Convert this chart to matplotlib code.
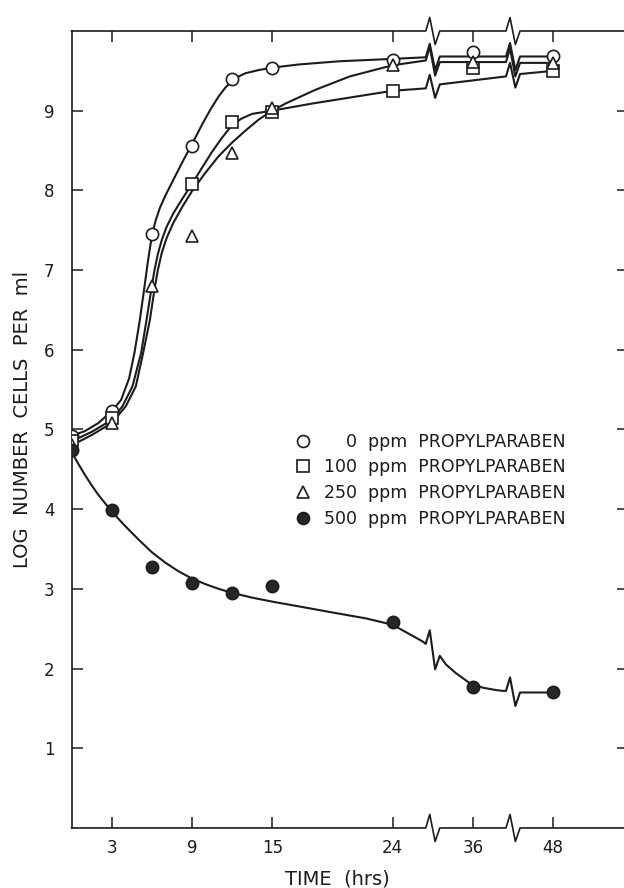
import numpy as np
import matplotlib
matplotlib.use('Agg')  # no display
import matplotlib.pyplot as plt
from matplotlib.lines import Line2D

plt.rcParams['font.family'] = ['DejaVu Sans']

# ---------------------------
# Measured points (read off the figure)
# ---------------------------
time_h = [0, 3, 6, 9, 12, 15, 24, 36, 48]
log_0ppm = [4.92, 5.23, 7.45, 8.56, 9.40, 9.53, 9.64, 9.74, 9.69]
log_100ppm = [4.85, 5.14, np.nan, 8.08, 8.86, 8.98, 9.25, 9.53, 9.50]
log_250ppm = [4.80, 5.08, 6.80, 7.43, 8.47, 9.04, 9.57, 9.61, 9.60]
log_500ppm = [4.74, 3.99, 3.27, 3.08, 2.95, 3.03, 2.59, 1.77, 1.70]

series_labels = ['\u2007\u20070  ppm  PROPYLPARABEN',
                 '100  ppm  PROPYLPARABEN',
                 '250  ppm  PROPYLPARABEN',
                 '500  ppm  PROPYLPARABEN']

# hand drawn curves; a repeated time = axis break
fit_t_0ppm = [0, 1, 2, 3, 3.7, 4.3, 4.7, 5.1, 5.45, 5.7, 5.9, 6.1, 6.3, 6.6, 7, 7.6, 8.3,
              9, 9.8, 10.4, 11, 11.5, 12, 12.5, 13, 14, 15, 17, 20, 24, 30, 30, 36, 42, 42, 48]
fit_0ppm = [4.92, 4.98, 5.08, 5.23, 5.37, 5.64, 5.96, 6.37, 6.79, 7.10, 7.32, 7.50, 7.63,
            7.78, 7.93, 8.13, 8.36, 8.58, 8.84, 9.02, 9.18, 9.29, 9.37, 9.43, 9.47, 9.51,
            9.54, 9.58, 9.62, 9.65, 9.67, 9.68, 9.68, 9.68, 9.68, 9.68]

fit_t_100ppm = [0, 1.5, 3, 3.8, 4.55, 5.2, 5.6, 6, 6.2, 6.45, 6.75, 7.1, 7.6, 8.3, 9, 9.7,
                10.45, 11.2, 12, 12.7, 13.5, 15, 18, 21, 24, 30, 30, 36, 42, 42, 48]
fit_100ppm = [4.85, 4.97, 5.12, 5.29, 5.54, 5.96, 6.37, 6.80, 7.00, 7.20, 7.38, 7.54, 7.71,
              7.90, 8.08, 8.27, 8.47, 8.65, 8.82, 8.90, 8.96, 9.00, 9.09, 9.17, 9.25, 9.28,
              9.33, 9.38, 9.43, 9.46, 9.50]

fit_t_250ppm = [0, 1.5, 3, 4.05, 4.8, 5.35, 5.85, 6.2, 6.45, 6.75, 7.1, 7.6, 8.3, 9, 10, 11,
                12, 13, 14, 15, 16, 18.2, 20.8, 24, 30, 30, 36, 42, 42, 48]
fit_250ppm = [4.80, 4.93, 5.08, 5.29, 5.54, 5.96, 6.37, 6.76, 7.00, 7.22, 7.40, 7.59, 7.80,
              7.99, 8.22, 8.43, 8.60, 8.75, 8.89, 9.00, 9.09, 9.26, 9.43, 9.57, 9.63, 9.61,
              9.61, 9.61, 9.60, 9.60]

fit_t_500ppm = [0, 0.5, 1, 1.5, 2, 2.5, 3, 3.5, 4, 5, 6, 7, 8, 9, 10, 11, 12, 13.5, 15, 17,
                19.3, 22, 24, 25.5, 27, 28.5, 30, 30, 32, 33.5, 35.5, 37.5, 39.5, 40.5, 42,
                42, 48]
fit_500ppm = [4.72, 4.57, 4.43, 4.30, 4.18, 4.075, 3.975, 3.88, 3.79, 3.62, 3.46, 3.33, 3.22,
              3.13, 3.06, 3.00, 2.95, 2.89, 2.84, 2.78, 2.71, 2.63, 2.55, 2.48, 2.41, 2.34,
              2.31, 2.16, 2.05, 1.94, 1.82, 1.76, 1.73, 1.72, 1.72, 1.70, 1.70]

tick_hours = [3, 9, 15, 24, 36, 48]
y_ticks = [1, 2, 3, 4, 5, 6, 7, 8, 9]

INK = '#1c1c1c'
ZX = [-0.52, -0.22, 0.18, 0.53]   # zigzag shape (axis units)
ZH = 0.17


def to_axis(t):
    # after 24 h the time axis is compressed 2:1
    t = np.asarray(t, dtype=float)
    return np.where(t <= 24, t, 24 + (t - 24) / 2)


def with_breaks(t, v):
    xs, ys = [], []
    i = 0
    while i < len(t):
        if i + 1 < len(t) and t[i + 1] == t[i]:
            d = float(to_axis(t[i]))
            yl, yr = v[i], v[i + 1]
            xs += [d + z for z in ZX]
            ys += [yl, yl + ZH, yr - ZH, yr]
            i += 2
        else:
            xs.append(float(to_axis(t[i])))
            ys.append(v[i])
            i += 1
    return xs, ys


fig = plt.figure(figsize=(6.24, 8.88), dpi=100)
ax = fig.add_axes([0.1147, 0.0676, 0.8917, 0.8975])
ax.set_xlim(0, 41.6)
ax.set_ylim(0, 10)

# fitted curves
for ft, fv in [(fit_t_0ppm, fit_0ppm), (fit_t_100ppm, fit_100ppm),
               (fit_t_250ppm, fit_250ppm), (fit_t_500ppm, fit_500ppm)]:
    xs, ys = with_breaks(ft, fv)
    ax.plot(xs, ys, color=INK, lw=1.5, zorder=2, solid_joinstyle='round')

# data markers
x_pts = to_axis(time_h)
mk = dict(ls='none', mec=INK, mew=1.2, zorder=3)
ax.plot(x_pts, log_0ppm, marker='o', ms=8.8, mfc='white', **mk)
ax.plot(x_pts, log_100ppm, marker='s', ms=8.4, mfc='white', **mk)
ax.plot(x_pts, log_250ppm, marker='^', ms=9.2, mfc='white', **mk)
ax.plot(x_pts, log_500ppm, marker='o', ms=8.8, mfc='#262626', **mk)

# broken top / bottom frame lines
t_end = 24 + (41.6 - 24) * 2
frame_t = [0, 30, 30, 42, 42, t_end]
for yv in (0, 10):
    xs, ys = with_breaks(frame_t, [yv] * len(frame_t))
    ax.plot(xs, ys, color=INK, lw=1.2, clip_on=False, zorder=4)
ax.spines['top'].set_visible(False)
ax.spines['bottom'].set_visible(False)
ax.spines['right'].set_visible(False)
ax.spines['left'].set_linewidth(1.2)
ax.spines['left'].set_color(INK)

ax.set_xticks(to_axis(tick_hours))
ax.set_xticklabels([str(h) for h in tick_hours])
ax.set_yticks(y_ticks)
ax.set_yticklabels([str(v) for v in y_ticks])
ax.tick_params(axis='both', direction='in', length=8, width=1.1, color=INK,
               labelsize=12, labelcolor=INK, top=True, right=True)
ax.tick_params(axis='x', pad=8.0)
ax.tick_params(axis='y', pad=12.3)

ax.set_xlabel('TIME  (hrs)', fontsize=14, color=INK)
ax.xaxis.label.set_verticalalignment('baseline')
ax.xaxis.set_label_coords(0.478, -0.0715)
ax.set_ylabel('LOG  NUMBER  CELLS  PER  ml', fontsize=14, color=INK)
ax.yaxis.label.set_verticalalignment('center')
ax.yaxis.set_label_coords(-0.0873, 0.513)

handles = [
    Line2D([], [], ls='none', marker='o', ms=8.6, mfc='white', mec=INK, mew=1.2),
    Line2D([], [], ls='none', marker='s', ms=8.2, mfc='white', mec=INK, mew=1.2),
    Line2D([], [], ls='none', marker='^', ms=9.0, mfc='white', mec=INK, mew=1.2),
    Line2D([], [], ls='none', marker='o', ms=8.6, mfc='#262626', mec=INK, mew=1.2),
]
ax.legend(handles, series_labels, loc='upper left', bbox_to_anchor=(0.401, 0.496),
          frameon=False, fontsize=12.5, handlelength=1.0, handletextpad=0.7,
          labelspacing=0.45, borderpad=0, borderaxespad=0, labelcolor=INK)

plt.savefig('out.png', dpi=100)
plt.close()
